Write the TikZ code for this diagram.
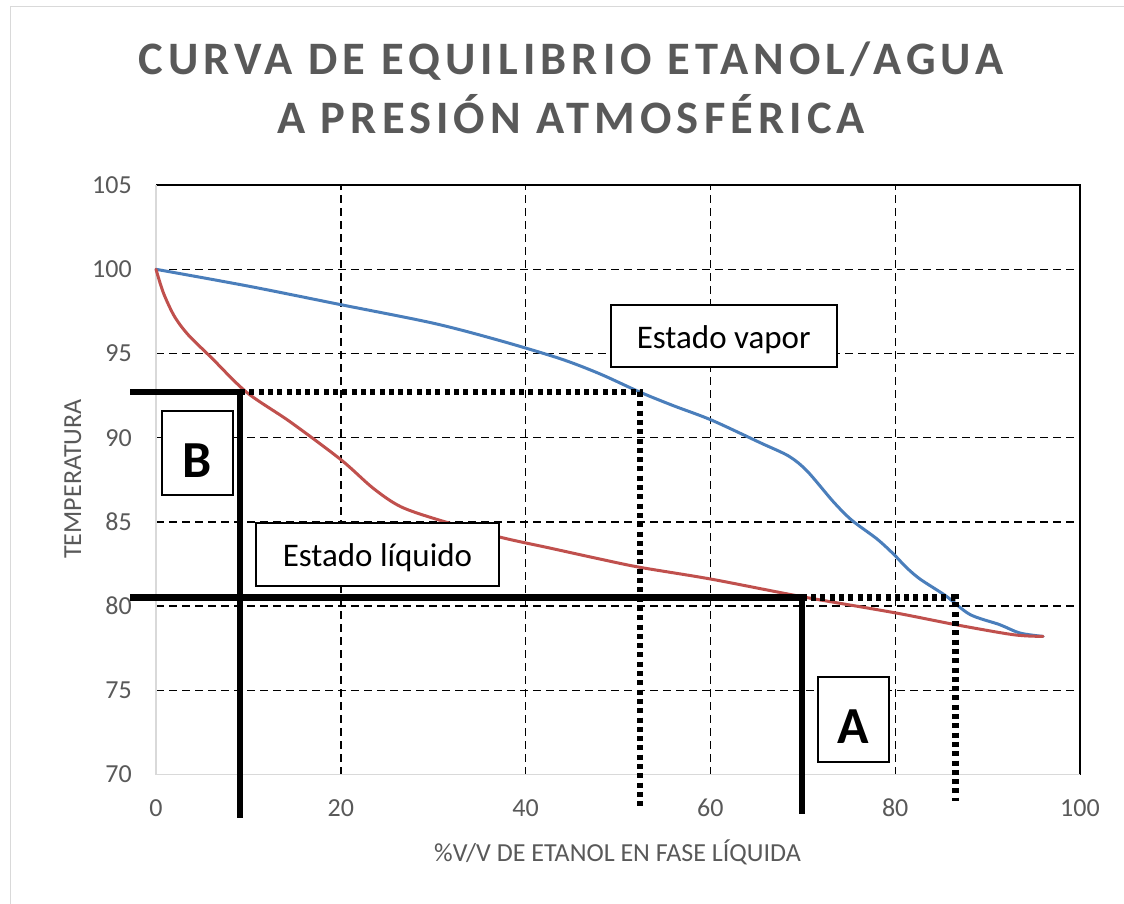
\documentclass[tikz,border=0pt]{standalone}
\usepackage{fontspec}
\setmainfont{Carlito}
\definecolor{gristexto}{HTML}{595959}
\definecolor{grisborde}{HTML}{D9D9D9}
\definecolor{azulvapor}{HTML}{4A7EBB}
\definecolor{rojoliq}{HTML}{C0504D}
\begin{document}
\begin{tikzpicture}[x=1pt,y=-1pt,
    rejilla/.style={black,line width=1.4pt,dash pattern=on 8pt off 5pt},
    guia/.style={black,line width=6.5pt},
    punteada/.style={black,line width=6.5pt,dash pattern=on 5pt off 4.3pt},
    curva/.style={line width=3pt,line join=round,line cap=round},
    etiq/.style={text=gristexto,inner sep=0pt,font=\fontsize{26}{30}\selectfont},
    titulo/.style={text=gristexto,inner sep=0pt,anchor=base,
      font=\fontsize{46.5}{50}\selectfont\bfseries\addfontfeatures{LetterSpace=11}},
    caja/.style={draw=black,line width=1.6pt,fill=white,inner sep=0pt,
      text height=24pt,text depth=0pt,font=\fontsize{33}{38}\selectfont},
    letra/.style={caja,text height=48pt,font=\fontsize{52}{60}\selectfont\bfseries}]
  \useasboundingbox (0,0) rectangle (1124,904);
  \fill[white] (0,0) rectangle (1124,904);
  \draw[grisborde,line width=1.5pt] (1140,6.7) -- (10.7,6.7) -- (10.7,920);
  \node[titulo] (titulo1) at (571,75) {CURVA DE EQUILIBRIO ETANOL/AGUA};
  \node[titulo] (titulo2) at (571,134) {A PRESIÓN ATMOSFÉRICA};
  \node[etiq,rotate=90] (ejeT) at (73,479) {TEMPERATURA};
  \node[etiq] (ejeX) at (617.5,852) {\%V/V DE ETANOL EN FASE LÍQUIDA};
  \begin{scope}[shift={(156,1953.3)},x=9.24pt,y=16.84pt]
    \foreach \t in {75,80,...,100} \draw[rejilla] (0,\t) -- (100,\t);
    \foreach \v in {20,40,60,80} \draw[rejilla] (\v,70) -- (\v,105);
    \draw[black,line width=1.5pt] (0,105) -- (100,105) -- (100,70);
    \draw[grisborde,line width=1.5pt] (0,105) -- (0,70) -- (100,70);
    \foreach \t in {70,75,...,105} \node[etiq,anchor=east] (t\t) at (-2.6,\t) {\t};
    \foreach \v in {0,20,...,100} \node[etiq] (x\v) at (\v,68.01) {\v};
    \draw[curva,azulvapor] plot[smooth] coordinates {(0,100) (10,99.0) (20,97.9)
      (30,96.8) (37,95.8) (43.7,94.7) (48,93.8) (52.4,92.7) (56,91.9) (60.1,91.05)
      (65.4,89.7) (68.5,88.9) (70.5,88.0) (73.3,86.2) (75.3,85.1) (78,84.0)
      (79.8,83.1) (81.2,82.3) (82.7,81.6) (85.5,80.6) (88.1,79.5)
      (91.3,78.9) (93.5,78.4) (96,78.2)};
    \draw[curva,rojoliq] plot[smooth] coordinates {(0,100) (0.8,98.6)
      (2,97.2) (3.5,96.1) (6,94.75) (9.8,92.7) (14.5,90.95) (20,88.7) (23.5,87.0)
      (26.5,85.9) (30.7,85.1) (37.2,84.1) (42.6,83.45)
      (48,82.8) (52.4,82.3) (60.1,81.6) (69.9,80.56) (80,79.6) (86.5,78.9)
      (92.8,78.3) (96,78.2)};
    \coordinate (bIzq) at (-2.8,92.7);
    \coordinate (bCorte) at (9.1,92.7);
    \coordinate (bPie) at (9.1,67.42);
    \coordinate (bVapor) at (52.4,92.7);
    \coordinate (bVaporPie) at (52.4,68.1);
    \coordinate (aIzq) at (-2.8,80.5);
    \coordinate (aCorte) at (69.9,80.5);
    \coordinate (aPie) at (69.9,67.65);
    \coordinate (aVapor) at (86.5,80.5);
    \coordinate (aVaporPie) at (86.5,68.4);
    \draw[guia] (bIzq) -- (bCorte) -- (bPie);
    \draw[punteada] (bCorte) -- (bVapor) -- (bVaporPie);
    \draw[guia] (aIzq) -- (aCorte) -- (aPie);
    \draw[punteada] (aCorte) -- (aVapor) -- (aVaporPie);
  \end{scope}
  \node[caja,minimum width=226pt,minimum height=62pt] (vapor) at (723.7,336.2) {Estado vapor};
  \node[caja,minimum width=243pt,minimum height=63pt] (liquido) at (377.5,554.5) {Estado líquido};
  \node[letra,minimum width=71pt,minimum height=84pt] (cajaB) at (197.5,453) {B};
  \node[letra,minimum width=71pt,minimum height=85pt] (cajaA) at (853.5,719.5) {A};
\end{tikzpicture}
\end{document}
